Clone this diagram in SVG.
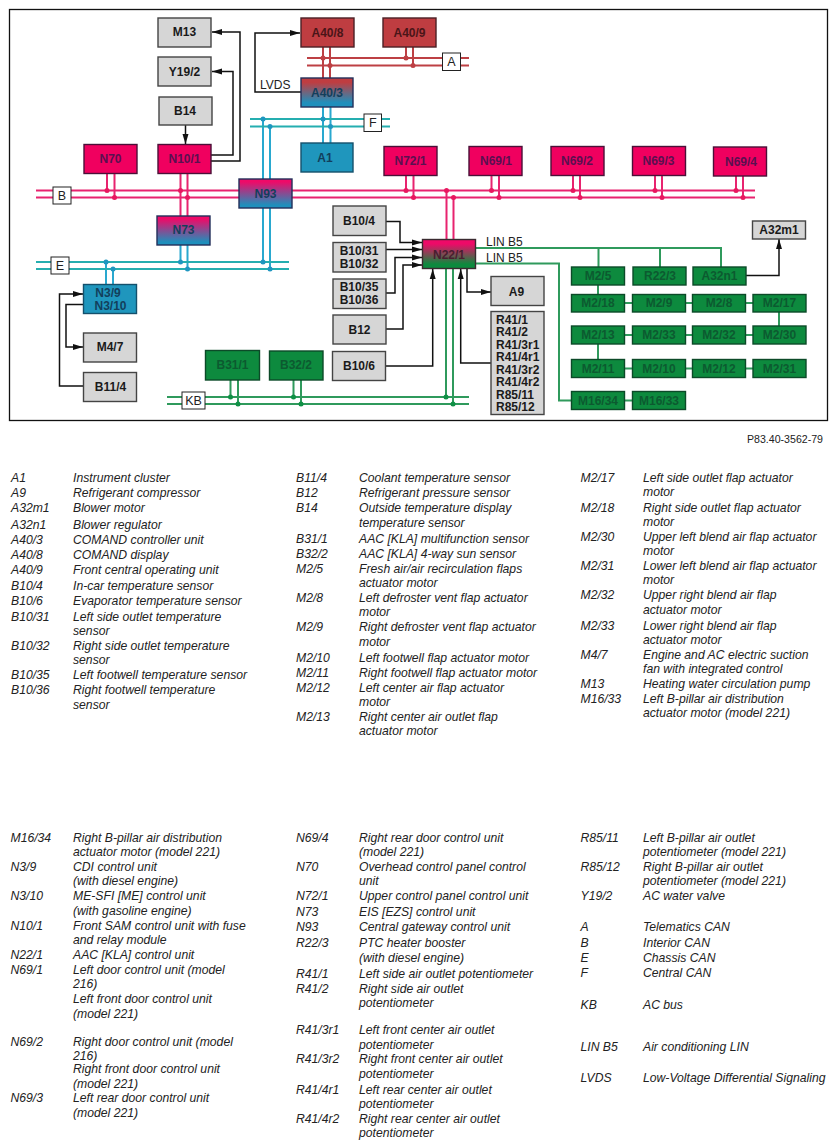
<svg xmlns="http://www.w3.org/2000/svg" width="837" height="1148" viewBox="0 0 837 1148">
<style>
text{font-family:"Liberation Sans",Arial,sans-serif}
.n{stroke-width:1.4}
.g{fill:#d6d6d6;stroke:#444}
.p{fill:#f0005f;stroke:#4a1038}
.r{fill:#bf3d41;stroke:#4a2025}
.b{fill:#1f96bd;stroke:#14506c}
.e{fill:#0d8a3e;stroke:#0c4a28}
.t{font-weight:bold;font-size:12px;text-anchor:middle;fill:#1a1a1a}
.tp{fill:#5a1050}.tr{fill:#4a1518}.tb{fill:#123f5c}.te{fill:#0c5a30}
.lab{fill:#fff;stroke:#222;stroke-width:1}
.lt{font-size:12.500px;text-anchor:middle;fill:#222}
.ll{font-size:12px;fill:#222}
.k{fill:none;stroke:#111;stroke-width:1.500}
.pk{fill:none;stroke:#e8236f;stroke-width:2}
.bl{fill:none;stroke:#29a8cf;stroke-width:2}
.tl{fill:none;stroke:#25aeb0;stroke-width:2}
.rd{fill:none;stroke:#bd4044;stroke-width:2}
.gr{fill:none;stroke:#2f9a5c;stroke-width:2}
.dp{fill:#e8185f}.db{fill:#1f96c0}.dg{fill:#0f9045}.dr{fill:#bd4044}
.leg text{font-size:12.200px;font-style:italic;fill:#222}
</style>
<defs>
<linearGradient id="gp" x1="0" y1="0" x2="0" y2="1"><stop offset="0.1" stop-color="#ee0a68"/><stop offset="0.9" stop-color="#1f8fbc"/></linearGradient>
<linearGradient id="gr" x1="0" y1="0" x2="0" y2="1"><stop offset="0.15" stop-color="#bf3d41"/><stop offset="0.85" stop-color="#1f8fbc"/></linearGradient>
<linearGradient id="gg" x1="0" y1="0" x2="0" y2="1"><stop offset="0.15" stop-color="#ee0a68"/><stop offset="0.85" stop-color="#0d8a3e"/></linearGradient>
<marker id="ar" markerUnits="userSpaceOnUse" markerWidth="11" markerHeight="7" refX="10" refY="3.500" orient="auto"><path d="M0,0.500 L10,3.500 L0,6.500 Z" fill="#111"/></marker>
</defs>
<rect x="9.5" y="9.5" width="818" height="411" fill="#fff" stroke="#111" stroke-width="1.3"/>
<g id="connectors">
<path class="pk" d="M36 190.5H755M36 197.5H755M107 173V190.5M114.500 173V197.500M180.500 173V216M187.500 173V216M406 175V190.500M413.500 175V197.500M446.500 190.500V240M453.500 197.500V240M491.500 175V190.500M499 175V197.500M573 175V190.500M580 175V197.500M655 175V190.500M662 175V197.500M736 176V190.500M743 176V197.500"/>
<g class="dp"><circle cx="107" cy="190.500" r="2.500"/><circle cx="114.500" cy="197.500" r="2.500"/><circle cx="180.500" cy="190.500" r="2.500"/><circle cx="187.500" cy="197.500" r="2.500"/><circle cx="406" cy="190.500" r="2.500"/><circle cx="413.500" cy="197.500" r="2.500"/><circle cx="446.500" cy="190.500" r="2.500"/><circle cx="453.500" cy="197.500" r="2.500"/><circle cx="491.500" cy="190.500" r="2.500"/><circle cx="499" cy="197.500" r="2.500"/><circle cx="573" cy="190.500" r="2.500"/><circle cx="580" cy="197.500" r="2.500"/><circle cx="655" cy="190.500" r="2.500"/><circle cx="662" cy="197.500" r="2.500"/><circle cx="736" cy="190.500" r="2.500"/><circle cx="743" cy="197.500" r="2.500"/></g>
<path class="bl" d="M263 119V262M270 126.500V269M323 107V143M330.500 107V143M180.500 245V262M187.500 245V269M106 262V284M113 269V284"/>
<path class="tl" d="M250 119H390M250 126.500H390M36 262H289M36 269H289"/>
<g class="db"><circle cx="263" cy="119" r="2.500"/><circle cx="270" cy="126.500" r="2.500"/><circle cx="323" cy="119" r="2.500"/><circle cx="330.500" cy="126.500" r="2.500"/><circle cx="263" cy="262" r="2.500"/><circle cx="270" cy="269" r="2.500"/><circle cx="180.500" cy="262" r="2.500"/><circle cx="187.500" cy="269" r="2.500"/><circle cx="106" cy="262" r="2.500"/><circle cx="113" cy="269" r="2.500"/></g>
<path class="rd" d="M307 58H469M307 65.500H469M323 47V78M330 47V78M406 47V58M413 47V65.500"/>
<g class="dr"><circle cx="323" cy="58" r="2.500"/><circle cx="330" cy="65.500" r="2.500"/><circle cx="406" cy="58" r="2.500"/><circle cx="413" cy="65.500" r="2.500"/></g>
<path class="gr" d="M167 397H469M167 404H469M230.500 380V397M238 380V404M293.500 380V397M301 380V404M446 269V397M453 269V404M476 248H721V267M598.500 248V267M660 248V267M476 263.500H559V400.500H571M598 285V294M779 312V326M598 344V360M624 303H633M685 303H692M746 303H753M624 335H633M685 335H692M746 335H753M624 368.500H633M685 368.500H692M746 368.500H753M624 400.500H632"/>
<g class="dg"><circle cx="230.500" cy="397" r="2.500"/><circle cx="238" cy="404" r="2.500"/><circle cx="293.500" cy="397" r="2.500"/><circle cx="301" cy="404" r="2.500"/><circle cx="446" cy="397" r="2.500"/><circle cx="453" cy="404" r="2.500"/></g>
<path class="k" marker-end="url(#ar)" d="M211 161H240V32H212"/>
<path class="k" marker-end="url(#ar)" d="M211 155H233V71.500H212"/>
<path class="k" marker-end="url(#ar)" d="M185.500 125V144"/>
<path class="k" marker-end="url(#ar)" d="M301 92H255V33H300"/>
<path class="k" marker-end="url(#ar)" d="M83 386H59.500V294H83"/>
<path class="k" marker-end="url(#ar)" d="M83 304.500H66V347H83"/>
<path class="k" marker-end="url(#ar)" d="M386 221.500H400V242.500H422"/>
<path class="k" marker-end="url(#ar)" d="M386 249.500H422"/>
<path class="k" marker-end="url(#ar)" d="M386 293H395V257.500H422"/>
<path class="k" marker-end="url(#ar)" d="M386 329H403V265H422"/>
<path class="k" marker-end="url(#ar)" d="M385 366H432.700V269"/>
<path class="k" marker-end="url(#ar)" d="M491 363H460.700V269"/>
<path class="k" marker-end="url(#ar)" d="M467 269V292H491"/>
<path class="k" marker-end="url(#ar)" d="M746 275.500H779V239"/>
</g>
<g id="bus-labels">
<rect class="lab" x="53" y="187" width="18" height="17"/><text class="lt" x="62" y="200">B</text>
<rect class="lab" x="51" y="257" width="18" height="17"/><text class="lt" x="60" y="270">E</text>
<rect class="lab" x="364" y="114" width="17.500" height="17.500"/><text class="lt" x="372.700" y="127">F</text>
<rect class="lab" x="442.500" y="53" width="18" height="17.500"/><text class="lt" x="451.500" y="66">A</text>
<rect class="lab" x="182" y="392" width="23" height="17"/><text class="lt" x="193.500" y="405">KB</text>
<text class="ll" x="260" y="89">LVDS</text>
<text class="ll" x="486" y="246">LIN B5</text>
<text class="ll" x="486" y="262">LIN B5</text>
</g>
<g id="M13"><rect class="n g" x="158" y="18" width="53" height="29"/><text class="t" x="184.500" y="36">M13</text></g>
<g id="Y19-2"><rect class="n g" x="158" y="57" width="53" height="29"/><text class="t" x="184.500" y="76">Y19/2</text></g>
<g id="B14"><rect class="n g" x="159" y="97" width="53" height="28"/><text class="t" x="185" y="115">B14</text></g>
<g id="N70"><rect class="n p" x="84" y="144.500" width="53" height="29"/><text class="t tp" x="110.500" y="163">N70</text></g>
<g id="N10-1"><rect class="n p" x="158" y="144.500" width="53" height="29"/><text class="t tp" x="184.500" y="163">N10/1</text></g>
<g id="N93"><rect class="n" fill="url(#gp)" stroke="#23305a" x="239" y="179" width="53" height="29"/><text class="t tb" x="265.500" y="198">N93</text></g>
<g id="N73"><rect class="n" fill="url(#gp)" stroke="#23305a" x="157" y="216" width="53" height="29"/><text class="t tb" x="183.500" y="234">N73</text></g>
<g id="A40-8"><rect class="n r" x="301" y="18" width="53" height="29"/><text class="t tr" x="327.500" y="37">A40/8</text></g>
<g id="A40-9"><rect class="n r" x="383" y="18" width="53" height="29"/><text class="t tr" x="409.500" y="37">A40/9</text></g>
<g id="A40-3"><rect class="n" fill="url(#gr)" stroke="#23305a" x="301" y="78" width="52" height="29"/><text class="t tb" x="327" y="97">A40/3</text></g>
<g id="A1"><rect class="n b" x="301" y="143" width="52" height="29"/><text class="t tb" x="325" y="162">A1</text></g>
<g id="N72-1"><rect class="n p" x="384" y="146.500" width="53" height="29"/><text class="t tp" x="410.500" y="165">N72/1</text></g>
<g id="N69-1"><rect class="n p" x="469" y="146.500" width="53" height="29"/><text class="t tp" x="496" y="165">N69/1</text></g>
<g id="N69-2"><rect class="n p" x="551" y="146.500" width="53" height="29"/><text class="t tp" x="577" y="165">N69/2</text></g>
<g id="N69-3"><rect class="n p" x="632.500" y="146.500" width="53" height="29"/><text class="t tp" x="658.500" y="165">N69/3</text></g>
<g id="N69-4"><rect class="n p" x="713.500" y="147" width="53" height="29"/><text class="t tp" x="741" y="166">N69/4</text></g>
<g id="B10-4"><rect class="n g" x="333" y="206" width="53" height="29.500"/><text class="t" x="359" y="225">B10/4</text></g>
<g id="B10-31"><rect class="n g" x="333" y="242.500" width="53" height="29.500"/><text class="t" x="359" y="255">B10/31</text><text class="t" x="359" y="268">B10/32</text></g>
<g id="B10-35"><rect class="n g" x="333" y="279" width="53" height="29.500"/><text class="t" x="359" y="291">B10/35</text><text class="t" x="359" y="304">B10/36</text></g>
<g id="B12"><rect class="n g" x="333" y="315" width="53" height="29"/><text class="t" x="359.500" y="334">B12</text></g>
<g id="B10-6"><rect class="n g" x="332.500" y="351.500" width="53" height="29"/><text class="t" x="359" y="370">B10/6</text></g>
<g id="B31-1"><rect class="n e" x="205.500" y="350.500" width="54" height="29.500"/><text class="t te" x="232.500" y="369">B31/1</text></g>
<g id="B32-2"><rect class="n e" x="269.500" y="351" width="53.500" height="29"/><text class="t te" x="296" y="369">B32/2</text></g>
<g id="N3-9"><rect class="n b" x="83.500" y="284.500" width="53" height="29"/><text class="t tb" x="108" y="297">N3/9</text><text class="t tb" x="110.500" y="310">N3/10</text></g>
<g id="M4-7"><rect class="n g" x="83.500" y="333" width="53" height="29"/><text class="t" x="110" y="351">M4/7</text></g>
<g id="B11-4"><rect class="n g" x="83.500" y="372.500" width="53" height="29"/><text class="t" x="110.500" y="391">B11/4</text></g>
<g id="N22-1"><rect class="n" fill="url(#gg)" stroke="#3a2a30" x="422.500" y="239.500" width="53" height="29"/><text class="t" style="fill:#4a1e30" x="449" y="259">N22/1</text></g>
<g id="A9"><rect class="n g" x="491" y="276.500" width="53" height="29"/><text class="t" x="516.500" y="296">A9</text></g>
<g id="R41"><rect class="n g" x="491" y="311.500" width="53" height="103"/>
<text class="t" style="text-anchor:start" x="496" y="324">R41/1</text><text class="t" style="text-anchor:start" x="496" y="336">R41/2</text><text class="t" style="text-anchor:start" x="496" y="349">R41/3r1</text><text class="t" style="text-anchor:start" x="496" y="361">R41/4r1</text><text class="t" style="text-anchor:start" x="496" y="374">R41/3r2</text><text class="t" style="text-anchor:start" x="496" y="386">R41/4r2</text><text class="t" style="text-anchor:start" x="496" y="399">R85/11</text><text class="t" style="text-anchor:start" x="496" y="411">R85/12</text></g>
<g id="A32m1"><rect class="n g" x="752.500" y="221" width="53" height="18"/><text class="t" x="779" y="234">A32m1</text></g>
<g id="M2-5"><rect class="n e" x="571.500" y="267" width="53" height="18"/><text class="t te" x="598" y="280">M2/5</text></g>
<g id="R22-3"><rect class="n e" x="633" y="267" width="53" height="18"/><text class="t te" x="660" y="280">R22/3</text></g>
<g id="A32n1"><rect class="n e" x="693" y="267" width="53" height="18"/><text class="t te" x="719.500" y="280">A32n1</text></g>
<g id="M2-18"><rect class="n e" x="571.500" y="294.500" width="53" height="17.500"/><text class="t te" x="598" y="307">M2/18</text></g>
<g id="M2-9"><rect class="n e" x="632.500" y="294.500" width="53" height="17.500"/><text class="t te" x="659" y="307">M2/9</text></g>
<g id="M2-8"><rect class="n e" x="692.500" y="294.500" width="53" height="17.500"/><text class="t te" x="719" y="307">M2/8</text></g>
<g id="M2-17"><rect class="n e" x="753" y="294.500" width="53" height="17.500"/><text class="t te" x="779.500" y="307">M2/17</text></g>
<g id="M2-13"><rect class="n e" x="571.500" y="326" width="53" height="18"/><text class="t te" x="598" y="339">M2/13</text></g>
<g id="M2-33"><rect class="n e" x="632.500" y="326" width="53" height="18"/><text class="t te" x="659" y="339">M2/33</text></g>
<g id="M2-32"><rect class="n e" x="692.500" y="326" width="53" height="18"/><text class="t te" x="719" y="339">M2/32</text></g>
<g id="M2-30"><rect class="n e" x="753" y="326" width="53" height="18"/><text class="t te" x="779.500" y="339">M2/30</text></g>
<g id="M2-11"><rect class="n e" x="571.500" y="359.500" width="53" height="18"/><text class="t te" x="598" y="373">M2/11</text></g>
<g id="M2-10"><rect class="n e" x="632.500" y="359.500" width="53" height="18"/><text class="t te" x="659" y="373">M2/10</text></g>
<g id="M2-12"><rect class="n e" x="692.500" y="359.500" width="53" height="18"/><text class="t te" x="719" y="373">M2/12</text></g>
<g id="M2-31"><rect class="n e" x="753" y="359.500" width="53" height="18"/><text class="t te" x="779.500" y="373">M2/31</text></g>
<g id="M16-34"><rect class="n e" x="571.500" y="391.500" width="53" height="18"/><text class="t te" x="598" y="405">M16/34</text></g>
<g id="M16-33"><rect class="n e" x="632.500" y="391.500" width="53" height="18"/><text class="t te" x="659" y="405">M16/33</text></g>
<text x="823" y="443" font-size="10.600" text-anchor="end" fill="#222">P83.40-3562-79</text>
<g class="leg">
<text x="11" y="482">A1</text><text x="73" y="482">Instrument cluster</text>
<text x="11" y="497">A9</text><text x="73" y="497">Refrigerant compressor</text>
<text x="11" y="512">A32m1</text><text x="73" y="512">Blower motor</text>
<text x="11" y="529">A32n1</text><text x="73" y="529">Blower regulator</text>
<text x="11" y="544">A40/3</text><text x="73" y="544">COMAND controller unit</text>
<text x="11" y="559">A40/8</text><text x="73" y="559">COMAND display</text>
<text x="11" y="574">A40/9</text><text x="73" y="574">Front central operating unit</text>
<text x="11" y="590">B10/4</text><text x="73" y="590">In-car temperature sensor</text>
<text x="11" y="605">B10/6</text><text x="73" y="605">Evaporator temperature sensor</text>
<text x="11" y="621">B10/31</text><text x="73" y="621">Left side outlet temperature</text><text x="73" y="635">sensor</text>
<text x="11" y="650">B10/32</text><text x="73" y="650">Right side outlet temperature</text><text x="73" y="664">sensor</text>
<text x="11" y="679">B10/35</text><text x="73" y="679">Left footwell temperature sensor</text>
<text x="11" y="694">B10/36</text><text x="73" y="694">Right footwell temperature</text><text x="73" y="709">sensor</text>
<text x="296" y="482">B11/4</text><text x="359" y="482">Coolant temperature sensor</text>
<text x="296" y="497">B12</text><text x="359" y="497">Refrigerant pressure sensor</text>
<text x="296" y="512">B14</text><text x="359" y="512">Outside temperature display</text><text x="359" y="527">temperature sensor</text>
<text x="296" y="543">B31/1</text><text x="359" y="543">AAC [KLA] multifunction sensor</text>
<text x="296" y="558">B32/2</text><text x="359" y="558">AAC [KLA] 4-way sun sensor</text>
<text x="296" y="573">M2/5</text><text x="359" y="573">Fresh air/air recirculation flaps</text><text x="359" y="587">actuator motor</text>
<text x="296" y="602">M2/8</text><text x="359" y="602">Left defroster vent flap actuator</text><text x="359" y="616">motor</text>
<text x="296" y="631">M2/9</text><text x="359" y="631">Right defroster vent flap actuator</text><text x="359" y="646">motor</text>
<text x="296" y="662">M2/10</text><text x="359" y="662">Left footwell flap actuator motor</text>
<text x="296" y="677">M2/11</text><text x="359" y="677">Right footwell flap actuator motor</text>
<text x="296" y="692">M2/12</text><text x="359" y="692">Left center air flap actuator</text><text x="359" y="706">motor</text>
<text x="296" y="721">M2/13</text><text x="359" y="721">Right center air outlet flap</text><text x="359" y="735">actuator motor</text>
<text x="580.500" y="482">M2/17</text><text x="643" y="482">Left side outlet flap actuator</text><text x="643" y="496">motor</text>
<text x="580.500" y="512">M2/18</text><text x="643" y="512">Right side outlet flap actuator</text><text x="643" y="526">motor</text>
<text x="580.500" y="541">M2/30</text><text x="643" y="541">Upper left blend air flap actuator</text><text x="643" y="555">motor</text>
<text x="580.500" y="570">M2/31</text><text x="643" y="570">Lower left blend air flap actuator</text><text x="643" y="584">motor</text>
<text x="580.500" y="599">M2/32</text><text x="643" y="599">Upper right blend air flap</text><text x="643" y="614">actuator motor</text>
<text x="580.500" y="630">M2/33</text><text x="643" y="630">Lower right blend air flap</text><text x="643" y="644">actuator motor</text>
<text x="580.500" y="659">M4/7</text><text x="643" y="659">Engine and AC electric suction</text><text x="643" y="673">fan with integrated control</text>
<text x="580.500" y="688">M13</text><text x="643" y="688">Heating water circulation pump</text>
<text x="580.500" y="703">M16/33</text><text x="643" y="703">Left B-pillar air distribution</text><text x="643" y="717">actuator motor (model 221)</text>
<text x="10.500" y="842">M16/34</text><text x="73" y="842">Right B-pillar air distribution</text><text x="73" y="856">actuator motor (model 221)</text>
<text x="10.500" y="871">N3/9</text><text x="73" y="871">CDI control unit</text><text x="73" y="885">(with diesel engine)</text>
<text x="10.500" y="900">N3/10</text><text x="73" y="900">ME-SFI [ME] control unit</text><text x="73" y="915">(with gasoline engine)</text>
<text x="10.500" y="930">N10/1</text><text x="73" y="930">Front SAM control unit with fuse</text><text x="73" y="944">and relay module</text>
<text x="10.500" y="959">N22/1</text><text x="73" y="959">AAC [KLA] control unit</text>
<text x="10.500" y="974">N69/1</text><text x="73" y="974">Left door control unit (model</text><text x="73" y="988">216)</text><text x="73" y="1003">Left front door control unit</text><text x="73" y="1018">(model 221)</text>
<text x="10.500" y="1046">N69/2</text><text x="73" y="1046">Right door control unit (model</text><text x="73" y="1060">216)</text><text x="73" y="1073">Right front door control unit</text><text x="73" y="1088">(model 221)</text>
<text x="10.500" y="1102">N69/3</text><text x="73" y="1102">Left rear door control unit</text><text x="73" y="1117">(model 221)</text>
<text x="296" y="842">N69/4</text><text x="359" y="842">Right rear door control unit</text><text x="359" y="856">(model 221)</text>
<text x="296" y="871">N70</text><text x="359" y="871">Overhead control panel control</text><text x="359" y="885">unit</text>
<text x="296" y="900">N72/1</text><text x="359" y="900">Upper control panel control unit</text>
<text x="296" y="916">N73</text><text x="359" y="916">EIS [EZS] control unit</text>
<text x="296" y="931">N93</text><text x="359" y="931">Central gateway control unit</text>
<text x="296" y="947">R22/3</text><text x="359" y="947">PTC heater booster</text><text x="359" y="962">(with diesel engine)</text>
<text x="296" y="978">R41/1</text><text x="359" y="978">Left side air outlet potentiometer</text>
<text x="296" y="993">R41/2</text><text x="359" y="993">Right side air outlet</text><text x="359" y="1007">potentiometer</text>
<text x="296" y="1034">R41/3r1</text><text x="359" y="1034">Left front center air outlet</text><text x="359" y="1049">potentiometer</text>
<text x="296" y="1063">R41/3r2</text><text x="359" y="1063">Right front center air outlet</text><text x="359" y="1078">potentiometer</text>
<text x="296" y="1094">R41/4r1</text><text x="359" y="1094">Left rear center air outlet</text><text x="359" y="1108">potentiometer</text>
<text x="296" y="1123">R41/4r2</text><text x="359" y="1123">Right rear center air outlet</text><text x="359" y="1137">potentiometer</text>
<text x="580.500" y="842">R85/11</text><text x="643" y="842">Left B-pillar air outlet</text><text x="643" y="856">potentiometer (model 221)</text>
<text x="580.500" y="871">R85/12</text><text x="643" y="871">Right B-pillar air outlet</text><text x="643" y="885">potentiometer (model 221)</text>
<text x="580.500" y="900">Y19/2</text><text x="643" y="900">AC water valve</text>
<text x="580.500" y="931">A</text><text x="643" y="931">Telematics CAN</text>
<text x="580.500" y="947">B</text><text x="643" y="947">Interior CAN</text>
<text x="580.500" y="962">E</text><text x="643" y="962">Chassis CAN</text>
<text x="580.500" y="977">F</text><text x="643" y="977">Central CAN</text>
<text x="580.500" y="1009">KB</text><text x="643" y="1009">AC bus</text>
<text x="580.500" y="1051">LIN B5</text><text x="643" y="1051">Air conditioning LIN</text>
<text x="580.500" y="1082">LVDS</text><text x="643" y="1082">Low-Voltage Differential Signaling</text>
</g>
</svg>
